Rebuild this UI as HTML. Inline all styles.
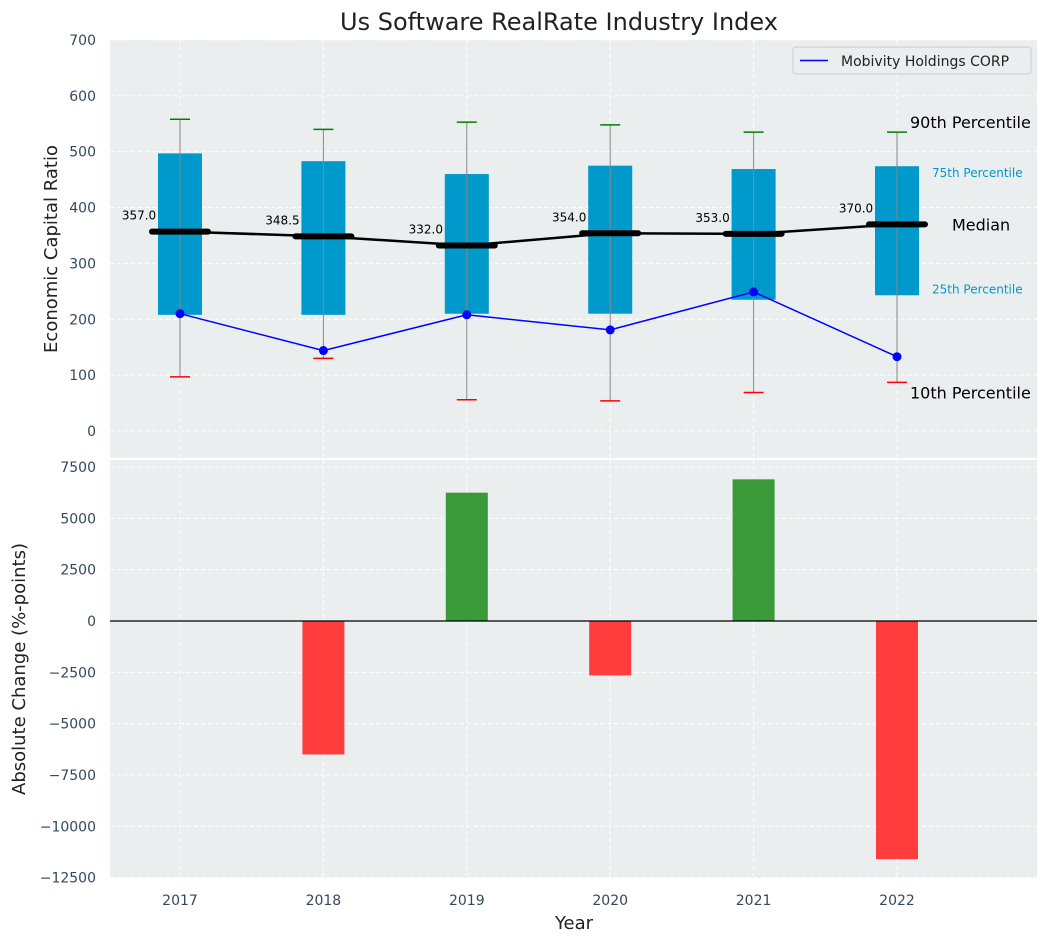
<!DOCTYPE html>
<html><head><meta charset="utf-8"><style>
body{margin:0;background:#fff;}
svg{display:block;font-family:"DejaVu Sans","Liberation Sans",sans-serif;}
</style></head><body>
<svg id="c" width="1048" height="942"></svg>
<script>
const years=[2017,2018,2019,2020,2021,2022];
const p10=[97,130,56,54,69,87];
const p25=[208,208,210,210,235,243];
const median=[357,348.5,332,354,353,370];
const p75=[497,483,460,475,469,474];
const p90=[558,540,553,548,535,535];
const company=[210,144,208,181,249,133];
const change=[0,-6500,6250,-2650,6900,-11600];
const topTicks=[0,100,200,300,400,500,600,700];
const botTicks=[-12500,-10000,-7500,-5000,-2500,0,2500,5000,7500];

const NS="http://www.w3.org/2000/svg";
const svg=document.getElementById('c');
function el(t,a,txt,p){const e=document.createElementNS(NS,t);for(const k in a)e.setAttribute(k,a[k]);if(txt!=null)e.textContent=txt;(p||svg).appendChild(e);return e;}
const L=110,R=1037,T1=40,B1=458,T2=460,B2=878;
const x=i=>180+i*143.4;
const y1=v=>431-v*0.5586;
const y2=v=>621-v*0.020533;

let e;
e=el('rect',{x:L,y:T1,width:R-L,height:B1-T1,fill:'#eaeeee'});

e=el('rect',{x:L,y:T2,width:R-L,height:B2-T2,fill:'#eaeeee'});


topTicks.forEach(v=>{
 el('line',{x1:L,x2:R,y1:y1(v),y2:y1(v),stroke:'#fff','stroke-dasharray':'4,3','stroke-width':1});
 e=el('text',{x:96,y:y1(v)+5,'text-anchor':'end','font-size':14,fill:'#34495e'},v);
 
});
botTicks.forEach(v=>{
 el('line',{x1:L,x2:R,y1:y2(v),y2:y2(v),stroke:'#fff','stroke-dasharray':'4,3','stroke-width':1});
 e=el('text',{x:96,y:y2(v)+5,'text-anchor':'end','font-size':14,fill:'#34495e'},v<0?'\u2212'+(-v):v);
 
});
years.forEach((yr,i)=>{
 el('line',{x1:x(i),x2:x(i),y1:T1,y2:B1,stroke:'#fff','stroke-dasharray':'4,3'});
 el('line',{x1:x(i),x2:x(i),y1:T2,y2:B2,stroke:'#fff','stroke-dasharray':'4,3'});
 e=el('text',{x:x(i),y:905,'text-anchor':'middle','font-size':14,fill:'#34495e'},yr);
 
});

years.forEach((yr,i)=>{
 e=el('rect',{x:x(i)-22,y:y1(p75[i]),width:44,height:y1(p25[i])-y1(p75[i]),fill:'#0099cc'});
 
 e=el('line',{x1:x(i),x2:x(i),y1:y1(p90[i]),y2:y1(p10[i]),stroke:'#888','stroke-width':1});
 
 e=el('line',{x1:x(i)-10,x2:x(i)+10,y1:y1(p90[i]),y2:y1(p90[i]),stroke:'green','stroke-width':1.5});
 
 e=el('line',{x1:x(i)-10,x2:x(i)+10,y1:y1(p10[i]),y2:y1(p10[i]),stroke:'red','stroke-width':1.5});
 
});
e=el('polyline',{points:years.map((_,i)=>x(i)+','+y1(median[i])).join(' '),fill:'none',stroke:'#000','stroke-width':2.5});

years.forEach((yr,i)=>{
 e=el('line',{x1:x(i)-28,x2:x(i)+28,y1:y1(median[i]),y2:y1(median[i]),stroke:'#000','stroke-width':6,'stroke-linecap':'round'});
 
 e=el('text',{x:x(i)-41,y:y1(median[i])-12,'text-anchor':'middle','font-size':12,fill:'#000'},median[i].toFixed(1));
 
});
e=el('polyline',{points:years.map((_,i)=>x(i)+','+y1(company[i])).join(' '),fill:'none',stroke:'blue','stroke-width':1.5});

years.forEach((yr,i)=>{e=el('circle',{cx:x(i),cy:y1(company[i]),r:4.5,fill:'blue'});
 });

const li=5;
[['90th Percentile',y1(p90[li])-4,16,'#000',910],['75th Percentile',y1(p75[li])+11,12,'#0099cc',932],
 ['Median',y1(median[li])+6,16,'#000',952],['25th Percentile',y1(p25[li])-2,12,'#0099cc',932],
 ['10th Percentile',y1(p10[li])+16,16,'#000',910]].forEach(a=>{
 e=el('text',{x:a[4],y:a[1],'font-size':a[2],fill:a[3]},a[0]);
 
});

const lg=el('g',{});
el('rect',{x:793,y:47,width:238,height:27,rx:3,fill:'#eaeeee',stroke:'#ccc'},null,lg);
el('line',{x1:800,x2:828,y1:60.5,y2:60.5,stroke:'blue','stroke-width':1.5},null,lg);
el('text',{x:841,y:66,'font-size':14,fill:'#222'},'Mobivity Holdings CORP',lg);

years.forEach((yr,i)=>{
 const v=change[i];
 e=el('rect',{x:x(i)-21,y:Math.min(y2(v),y2(0)),width:42,height:Math.abs(y2(v)-y2(0)),fill:v>=0?'#3a9a3a':'#ff3d3d'});
 
});
e=el('line',{x1:L,x2:R,y1:y2(0),y2:y2(0),stroke:'#000','stroke-width':1.2});


e=el('text',{x:559,y:30,'text-anchor':'middle','font-size':24,fill:'#222'},'Us Software RealRate Industry Index');

e=el('text',{x:0,y:0,'text-anchor':'middle','font-size':18,fill:'#222',transform:'translate(57,249) rotate(-90)'},'Economic Capital Ratio');

e=el('text',{x:0,y:0,'text-anchor':'middle','font-size':18,fill:'#222',transform:'translate(25,669) rotate(-90)'},'Absolute Change (%-points)');

e=el('text',{x:574,y:929,'text-anchor':'middle','font-size':18,fill:'#222'},'Year');

</script>
</body></html>
